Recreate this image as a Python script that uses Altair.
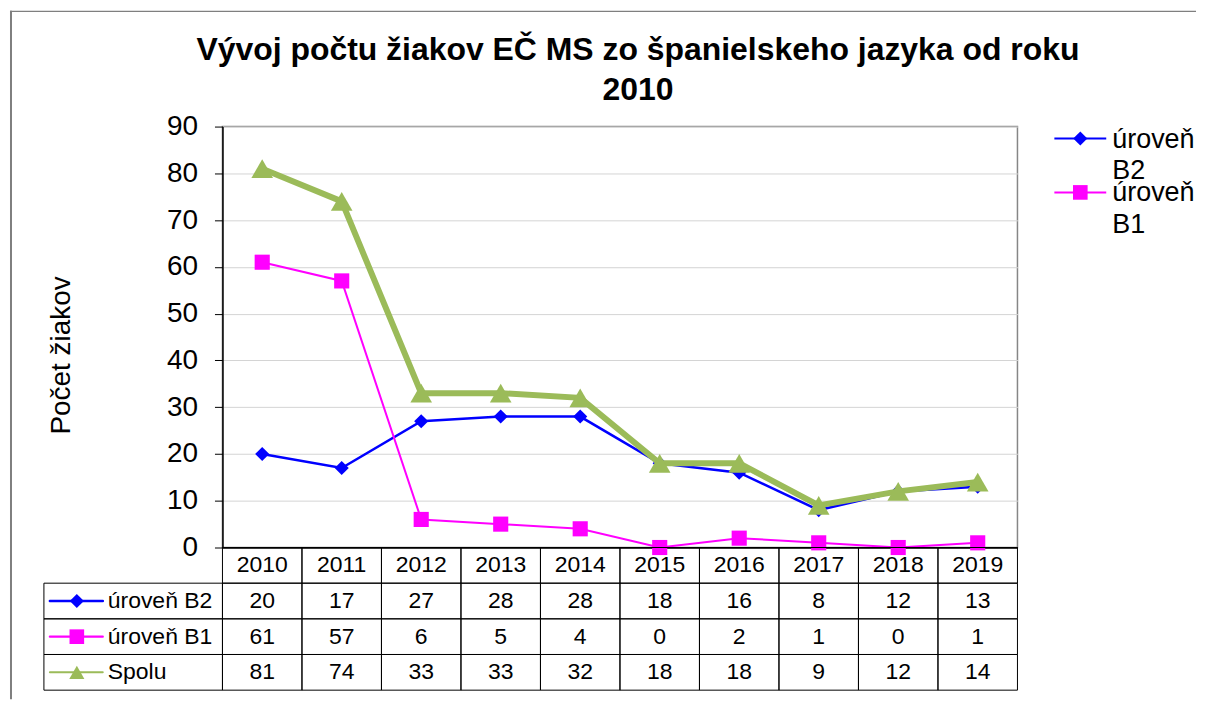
import altair as alt
import pandas as pd

# ---------------- data ----------------
years = [2010, 2011, 2012, 2013, 2014, 2015, 2016, 2017, 2018, 2019]
b2 = [20, 17, 27, 28, 28, 18, 16, 8, 12, 13]
b1 = [61, 57, 6, 5, 4, 0, 2, 1, 0, 1]
spolu = [81, 74, 33, 33, 32, 18, 18, 9, 12, 14]
series = ["úroveň B2", "úroveň B1", "Spolu"]
legend_series = ["úroveň B2", "úroveň B1"]
legend_labels = ["úroveň\nB2", "úroveň\nB1"]
header_row = "Rok"
y_title = "Počet žiakov"
title_lines = ["Vývoj počtu žiakov EČ MS zo španielskeho jazyka od roku", "2010"]

# ---------------- styles ----------------
colors = ["#0000FF", "#FF00FF", "#9BBB59"]
shapes = ["diamond", "square", "triangle-up"]
line_widths = [2.6, 2, 6]
point_sizes = [200, 230, 470]
FONT = "Liberation Sans"
PLOT_W, PLOT_H = 797, 422
LAB_W = 179
TAB_H = 143
LEG_W = 182

values = [b2, b1, spolu]
long = pd.DataFrame(
    [{"year": str(y), "series": s, "value": v}
     for s, vals in zip(series, values) for y, v in zip(years, vals)]
)

# shared non-positional scales (concat shares them)
s_color = alt.Scale(domain=series, range=colors)
s_shape = alt.Scale(domain=series, range=shapes)
s_size = alt.Scale(domain=series, range=point_sizes)
s_sw = alt.Scale(domain=series, range=line_widths)

# ---------------- main plot ----------------
x_plot = alt.X("year:O", scale=alt.Scale(type="point", padding=0.5),
               axis=alt.Axis(labels=False, ticks=False, title=None, grid=False,
                             domainColor="black", domainWidth=1.5))
y_plot = alt.Y("value:Q", scale=alt.Scale(domain=[0, 90], nice=False),
               axis=alt.Axis(values=list(range(0, 91, 10)), title=y_title,
                             titleFont=FONT, titleFontSize=28, titleFontWeight="normal",
                             titleColor="black", titleX=-153, titleY=229,
                             titleBaseline="alphabetic", titleAlign="center",
                             labelFont=FONT, labelFontSize=28, labelColor="black",
                             labelPadding=17, tickSize=8, tickColor="black",
                             domainColor="black", domainWidth=1.5,
                             gridColor="#d4d4d4", gridWidth=1))

layers = []
for i, s in enumerate(series):
    base = alt.Chart(long).transform_filter(alt.datum.series == s)
    layers.append(base.mark_line(color=colors[i], strokeWidth=line_widths[i]).encode(x=x_plot, y=y_plot))
    layers.append(base.mark_point(filled=True, shape=shapes[i], size=point_sizes[i],
                                  color=colors[i], opacity=1).encode(x=x_plot, y=y_plot))

plot = alt.layer(*layers).properties(
    width=PLOT_W, height=PLOT_H,
    title=alt.TitleParams(text=title_lines, font=FONT, fontSize=32, fontWeight="bold", color="black",
                          anchor="middle", frame="group", dx=18, offset=6, lineHeight=40),
    view=alt.ViewBackground(stroke="#868686", strokeWidth=1.5))

# ---------------- spacer with outer frame ----------------
one = pd.DataFrame({"a": [0]})
frame_left = alt.Chart(one).mark_rule(color="#7f7f7f", strokeWidth=2).encode(
    x=alt.value(-33), y=alt.value(-116), y2=alt.value(574))
frame_top = alt.Chart(one).mark_rule(color="#7f7f7f", strokeWidth=1.3).encode(
    x=alt.value(-34), x2=alt.value(1155), y=alt.value(-115.5))
spacer = alt.layer(frame_left, frame_top).properties(
    width=LAB_W, height=PLOT_H, view=alt.ViewBackground(stroke="transparent"))

# ---------------- legend ----------------
leg_df = pd.DataFrame({"row": legend_series, "txt": legend_labels, "rank": [0, 1]})
leg_y = alt.Y("rank:Q", scale=alt.Scale(domain=[-12 / 54, (PLOT_H - 12) / 54], reverse=True,
                                         nice=False, zero=False), axis=None)
leg_base = alt.Chart(leg_df)
legend = alt.layer(
    leg_base.mark_rule(strokeWidth=2).encode(
        x=alt.value(37), x2=alt.value(89), y=leg_y,
        color=alt.Color("row:N", scale=s_color, legend=None)),
    leg_base.mark_point(filled=True, opacity=1).encode(
        x=alt.value(63), y=leg_y,
        color=alt.Color("row:N", scale=s_color, legend=None),
        shape=alt.Shape("row:N", scale=s_shape, legend=None),
        size=alt.Size("row:N", scale=s_size, legend=None)),
    leg_base.mark_text(align="left", baseline="alphabetic", dy=9, lineBreak="\n", lineHeight=32,
                       fontSize=27, font=FONT, color="black").encode(
        x=alt.value(95), y=leg_y, text="txt:N"),
).properties(width=LEG_W, height=PLOT_H, view=alt.ViewBackground(stroke="transparent"))

# ---------------- data table ----------------
rows = [header_row] + series
tab_records = [{"year": str(y), "row": header_row, "txt": str(y)} for y in years]
for s, vals in zip(series, values):
    tab_records += [{"year": str(y), "row": s, "txt": str(v)} for y, v in zip(years, vals)]
tab_df = pd.DataFrame(tab_records)

row_scale = alt.Scale(domain=rows, paddingInner=0, paddingOuter=0)
band_x = alt.Scale(type="band", paddingInner=0, paddingOuter=0)
tab_base = alt.Chart(tab_df)
table = alt.layer(
    tab_base.mark_rect(fill="white", fillOpacity=0, stroke="black", strokeWidth=1).encode(
        x=alt.X("year:O", scale=band_x, axis=None),
        y=alt.Y("row:N", scale=row_scale, axis=None)),
    tab_base.mark_text(fontSize=23, font=FONT, color="black", baseline="middle").encode(
        x=alt.X("year:O", bandPosition=0.5, scale=band_x, axis=None),
        y=alt.Y("row:N", bandPosition=0.5, scale=row_scale, axis=None),
        text="txt:N"),
).properties(width=PLOT_W, height=TAB_H, view=alt.ViewBackground(stroke="transparent"))

# ---------------- table labels (left column) ----------------
lab_df = pd.DataFrame({"row": series})
ly_c = alt.Y("row:N", bandPosition=0.5, scale=row_scale, axis=None)
lab_base = alt.Chart(lab_df)
labels = alt.layer(
    lab_base.mark_rect(fill="white", fillOpacity=0, stroke="black", strokeWidth=1).encode(
        x=alt.value(0), x2=alt.value(LAB_W), y=alt.Y("row:N", scale=row_scale, axis=None)),
    lab_base.mark_rule(strokeCap="round").encode(
        x=alt.value(6), x2=alt.value(59), y=ly_c,
        color=alt.Color("row:N", scale=s_color, legend=None),
        strokeWidth=alt.StrokeWidth("row:N", scale=s_sw, legend=None)),
    lab_base.mark_point(filled=True, opacity=1).encode(
        x=alt.value(33), y=ly_c,
        color=alt.Color("row:N", scale=s_color, legend=None),
        shape=alt.Shape("row:N", scale=s_shape, legend=None),
        size=alt.Size("row:N", scale=s_size, legend=None)),
    lab_base.mark_text(align="left", baseline="middle", fontSize=23, font=FONT, color="black").encode(
        x=alt.value(64), y=ly_c, text="row:N"),
).properties(width=LAB_W, height=TAB_H, view=alt.ViewBackground(stroke="transparent"))

chart = alt.concat(spacer, plot, legend, labels, table, columns=3, spacing=0, bounds="flush").properties(
    padding=0,
).configure_view(stroke=None)

chart.save("out.html", embed_options={"renderer": "svg", "actions": False})
